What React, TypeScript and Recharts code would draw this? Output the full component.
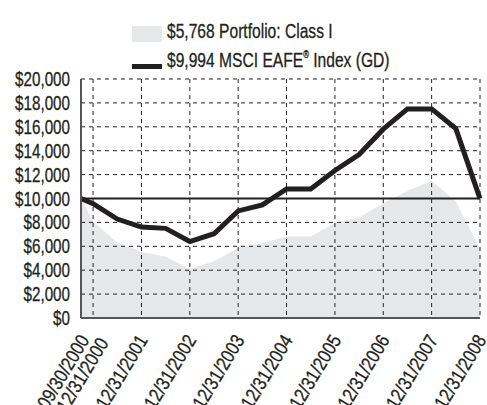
import React from "react";
import {
  ComposedChart,
  Area,
  Line,
  XAxis,
  YAxis,
  CartesianGrid,
  ReferenceLine,
} from "recharts";

// Semi-annual observation dates
const dates = [
  "09/30/2000", "12/31/2000", "06/30/2001", "12/31/2001", "06/30/2002",
  "12/31/2002", "06/30/2003", "12/31/2003", "06/30/2004", "12/31/2004",
  "06/30/2005", "12/31/2005", "06/30/2006", "12/31/2006", "06/30/2007",
  "12/31/2007", "06/30/2008", "12/31/2008",
];

// MSCI EAFE Index (GD)
const msciValues = [
  10000, 9560, 8280, 7610, 7500, 6400, 7050, 8960, 9470, 10800,
  10790, 12350, 13680, 15800, 17500, 17500, 15850, 9994,
];

// Portfolio: Class I
const portfolioValues = [
  10000, 8080, 6300, 5550, 5120, 4120, 4740, 5850, 6270, 6830,
  6820, 7960, 8420, 9600, 10620, 11490, 9750, 5768,
];

const xTickLabels = [
  "09/30/2000", "12/31/2000", "12/31/2001", "12/31/2002", "12/31/2003",
  "12/31/2004", "12/31/2005", "12/31/2006", "12/31/2007", "12/31/2008",
];

const yTicks = [0, 2000, 4000, 6000, 8000, 10000, 12000, 14000, 16000, 18000, 20000];

const legendItems = [
  { label: "$5,768 Portfolio: Class I", kind: "area" },
  { label: "$9,994 MSCI EAFE\u00AE Index (GD)", kind: "line" },
];

const baseline = 10000;

// quarters elapsed since 09/30/2000
const quarterOf = (d: string) => {
  const [m, , y] = d.split("/").map(Number);
  return (y - 2000) * 4 + m / 3 - 3;
};

const data = dates.map((d, i) => ({
  q: quarterOf(d),
  date: d,
  msci: msciValues[i],
  portfolio: portfolioValues[i],
}));

const xTicks = xTickLabels.map(quarterOf);
const labelByQ: Record<number, string> = {};
xTickLabels.forEach((l) => (labelByQ[quarterOf(l)] = l));

const FONT = "'Liberation Sans', Arial, sans-serif";
const INK = "#231f20";
const AREA = "#e6e7e8";
const SX = 0.78;

const XTick = (props: any) => {
  const { x, y, payload, index } = props;
  const nx = index === 0 ? 2 : index === 1 ? 9 : 0;
  const ny = index === 1 ? 3 : 0;
  return (
    <g transform={`translate(${x + 7 + nx},${y + 14 + ny})`}>
      <g transform="rotate(-59)">
        <text
          x={0}
          y={0}
          textAnchor="end"
          transform="scale(0.84,1)"
          fill={INK}
          stroke={INK}
          strokeWidth={0.3}
          fontSize={19.5}
          fontFamily={FONT}
        >
          {labelByQ[payload.value]}
        </text>
      </g>
    </g>
  );
};

const YTick = (props: any) => {
  const { y, payload } = props;
  return (
    <g transform={`translate(70,${y})`}>
      <text
        x={0}
        y={0}
        dy="0.36em"
        textAnchor="end"
        transform={`scale(${SX},1)`}
        fill={INK}
        stroke={INK}
        strokeWidth={0.3}
        fontSize={19.5}
        fontFamily={FONT}
      >
        {"$" + Number(payload.value).toLocaleString("en-US")}
      </text>
    </g>
  );
};

const renderLabel = (s: string) => {
  const parts = s.split("\u00AE");
  if (parts.length === 1) return s;
  return (
    <>
      {parts[0]}
      <span style={{ fontSize: "0.5em", verticalAlign: "0.9em" }}>{"\u00AE"}</span>
      {parts[1]}
    </>
  );
};

export default function App() {
  return (
    <div style={{ position: "absolute", left: 0, top: 0, width: 487, height: 405, background: "#fff", overflow: "hidden" }}>
      <ComposedChart
        width={487}
        height={405}
        data={data}
        margin={{ top: 79, right: 7, bottom: 0, left: 0 }}
      >
        <XAxis
          dataKey="q"
          type="number"
          domain={[0, 33]}
          ticks={xTicks}
          interval={0}
          tick={<XTick />}
          tickLine={false}
          axisLine={{ stroke: "#555", strokeWidth: 2 }}
          height={87}
        />
        <YAxis
          type="number"
          domain={[0, 20000]}
          ticks={yTicks}
          interval={0}
          tick={<YTick />}
          tickLine={false}
          axisLine={{ stroke: "#555", strokeWidth: 2 }}
          width={81}
        />
        <Area
          type="linear"
          dataKey="portfolio"
          fill={AREA}
          fillOpacity={1}
          stroke="none"
          isAnimationActive={false}
        />
        <CartesianGrid
          stroke={INK}
          strokeDasharray="4 4"
          strokeWidth={1}
          {...({ zIndex: 150 } as any)}
        />
        <ReferenceLine y={baseline} stroke={INK} strokeWidth={2} />
        <Line
          type="linear"
          dataKey="msci"
          stroke={INK}
          strokeWidth={5}
          strokeLinejoin="miter"
          dot={false}
          isAnimationActive={false}
        />
      </ComposedChart>
      <div style={{ position: "absolute", left: 132, top: 17, fontFamily: FONT, fontSize: 20, color: INK, WebkitTextStroke: "0.3px #231f20" }}>
        {legendItems.map((it) => (
          <div key={it.label} style={{ display: "flex", alignItems: "center", height: 29, whiteSpace: "nowrap" }}>
            <svg width={35} height={24} style={{ flex: "none" }}>
              {it.kind === "area" ? (
                <rect x={0} y={6} width={30} height={16} fill={AREA} />
              ) : (
                <rect x={0} y={15} width={30} height={5} fill={INK} />
              )}
            </svg>
            <span style={{ display: "inline-block", transform: "scaleX(0.78)", transformOrigin: "left center" }}>
              {renderLabel(it.label)}
            </span>
          </div>
        ))}
      </div>
    </div>
  );
}
